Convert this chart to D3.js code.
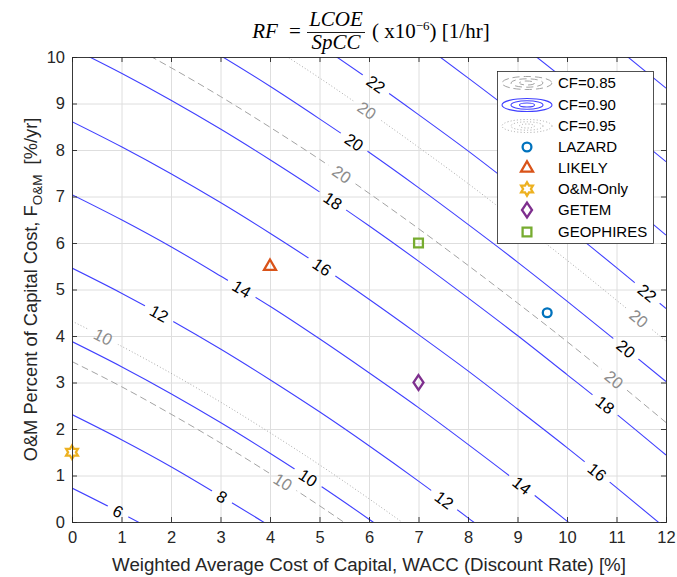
<!DOCTYPE html>
<html>
<head>
<meta charset="utf-8">
<script src="https://cdn.jsdelivr.net/npm/d3@7"></script>
<style>
  body { margin: 0; background: #fff; }
  svg { display: block; }
</style>
</head>
<body>
<svg id="chart" width="677" height="577"></svg>
<script>
// WACC grid [%] at which every contour's O&M value is tabulated
const wacc = [0, 1, 2, 3, 4, 5, 6, 7, 8, 9, 10, 11, 12];

// RF contours (x1e-6 1/hr) for capacity factor 0.90: O&M % at each WACC grid value
const cf090 = [
  { level: 6,  fom: [0.73, 0.19, -0.39, -1.01, -1.67, -2.36, -3.09, -3.85, -4.64, -5.45, -6.29, -7.14, -8.02] },
  { level: 8,  fom: [2.31, 1.77, 1.19, 0.56, -0.09, -0.79, -1.52, -2.27, -3.06, -3.87, -4.71, -5.57, -6.44] },
  { level: 10, fom: [3.88, 3.34, 2.76, 2.14, 1.48, 0.79, 0.06, -0.70, -1.48, -2.30, -3.13, -3.99, -4.87] },
  { level: 12, fom: [5.46, 4.92, 4.34, 3.72, 3.06, 2.37, 1.64, 0.88, 0.09, -0.72, -1.56, -2.41, -3.29] },
  { level: 14, fom: [7.04, 6.50, 5.92, 5.29, 4.64, 3.94, 3.21, 2.46, 1.67, 0.86, 0.02, -0.84, -1.71] },
  { level: 16, fom: [8.61, 8.07, 7.49, 6.87, 6.21, 5.52, 4.79, 4.03, 3.25, 2.43, 1.60, 0.74, -0.14] },
  { level: 18, fom: [10.19, 9.65, 9.07, 8.45, 7.79, 7.10, 6.37, 5.61, 4.82, 4.01, 3.17, 2.32, 1.44] },
  { level: 20, fom: [11.77, 11.23, 10.65, 10.03, 9.37, 8.67, 7.95, 7.19, 6.40, 5.59, 4.75, 3.89, 3.02] },
  { level: 22, fom: [13.34, 12.80, 12.22, 11.60, 10.94, 10.25, 9.52, 8.76, 7.98, 7.16, 6.33, 5.47, 4.59] },
  { level: 24, fom: [14.92, 14.38, 13.80, 13.18, 12.52, 11.83, 11.10, 10.34, 9.55, 8.74, 7.90, 7.05, 6.17] },
  { level: 26, fom: [16.50, 15.96, 15.38, 14.76, 14.10, 13.40, 12.68, 11.92, 11.13, 10.32, 9.48, 8.62, 7.75] },
  { level: 28, fom: [18.08, 17.53, 16.95, 16.33, 15.67, 14.98, 14.25, 13.49, 12.71, 11.89, 11.06, 10.20, 9.33] }
];

// capacity factor 0.85
const cf085 = [
  { level: 10, fom: [3.45, 2.91, 2.32, 1.70, 1.04, 0.35, -0.38, -1.14, -1.92, -2.73, -3.57, -4.43, -5.30] },
  { level: 20, fom: [10.89, 10.35, 9.77, 9.15, 8.49, 7.80, 7.07, 6.31, 5.52, 4.71, 3.88, 3.02, 2.14] }
];

// capacity factor 0.95
const cf095 = [
  { level: 10, fom: [4.32, 3.78, 3.20, 2.58, 1.92, 1.23, 0.50, -0.26, -1.05, -1.86, -2.69, -3.55, -4.43] },
  { level: 20, fom: [12.64, 12.10, 11.52, 10.90, 10.24, 9.55, 8.82, 8.06, 7.28, 6.46, 5.63, 4.77, 3.89] }
];

// reference estimates
const designNames = ["LAZARD", "LIKELY", "O&M-Only", "GETEM", "GEOPHIRES"];
const designWacc  = [9.6, 4, 0, 7, 7];
const designFom   = [4.5, 5.5, 1.5, 3, 6];

// axis ticks
const xTicks = [0, 1, 2, 3, 4, 5, 6, 7, 8, 9, 10, 11, 12];
const yTicks = [0, 1, 2, 3, 4, 5, 6, 7, 8, 9, 10];

// WACC values along each contour where its inline label sits
const labelAt090 = { 6: [0.93], 8: [3.03], 10: [4.77], 12: [1.76, 7.52], 14: [3.43, 9.09],
                     16: [5.05, 10.61], 18: [5.27, 10.77], 20: [5.70, 11.19], 22: [6.14, 11.62] };
const labelAt085 = { 10: [4.26], 20: [5.45, 10.95] };
const labelAt095 = { 10: [0.63], 20: [5.96, 11.45] };

// ---------------------------------------------------------------------------
const svg = d3.select("#chart");
const W = 677, H = 577;
const plot = { left: 72, right: 666, top: 57, bottom: 522 };
const sans = "'Liberation Sans', Arial, Helvetica, sans-serif";
const serif = "'Liberation Serif', 'Times New Roman', serif";
const axisColor = "#262626";

const x = d3.scaleLinear().domain([0, 12]).range([plot.left, plot.right]);
const y = d3.scaleLinear().domain([0, 10]).range([plot.bottom, plot.top]);

const defs = svg.append("defs");
defs.append("clipPath").attr("id", "plot-clip")
  .append("rect")
  .attr("x", plot.left).attr("y", plot.top)
  .attr("width", plot.right - plot.left).attr("height", plot.bottom - plot.top);

// background + grid
svg.append("rect").attr("x", plot.left).attr("y", plot.top)
  .attr("width", plot.right - plot.left).attr("height", plot.bottom - plot.top)
  .attr("fill", "#fff");

const grid = svg.append("g").attr("stroke", "#dedede").attr("stroke-width", 1);
grid.selectAll(".gx").data(xTicks).join("line")
  .attr("x1", d => x(d) + 0.5).attr("x2", d => x(d) + 0.5)
  .attr("y1", plot.top).attr("y2", plot.bottom);
grid.selectAll(".gy").data(yTicks).join("line")
  .attr("y1", d => y(d) + 0.5).attr("y2", d => y(d) + 0.5)
  .attr("x1", plot.left).attr("x2", plot.right);

// contour sets
const line = d3.line()
  .x((d, i) => x(wacc[i]))
  .y(d => y(d))
  .curve(d3.curveMonotoneX);

const sets = [
  { data: cf085, labels: labelAt085, stroke: "#a3a3a3", dash: "7,4",   width: 1,   text: "#8c8c8c", name: "cf085" },
  { data: cf090, labels: labelAt090, stroke: "#4040ff", dash: null,    width: 1.1, text: "#000000", name: "cf090" },
  { data: cf095, labels: labelAt095, stroke: "#a8a8a8", dash: "1,2.2", width: 1,   text: "#8c8c8c", name: "cf095" }
];

const contourLayer = svg.append("g").attr("clip-path", "url(#plot-clip)");
const labelLayer = svg.append("g")
  .attr("font-family", sans).attr("font-size", 16.5);

function pointAtX(node, px) {
  let lo = 0, hi = node.getTotalLength();
  for (let k = 0; k < 40; k++) {
    const mid = (lo + hi) / 2;
    if (node.getPointAtLength(mid).x < px) lo = mid; else hi = mid;
  }
  return (lo + hi) / 2;
}

sets.forEach(set => {
  set.data.forEach((c, ci) => {
    const id = `mask-${set.name}-${ci}`;
    const mask = defs.append("mask").attr("id", id).attr("maskUnits", "userSpaceOnUse")
      .attr("x", 0).attr("y", 0).attr("width", W).attr("height", H);
    mask.append("rect").attr("x", 0).attr("y", 0).attr("width", W).attr("height", H).attr("fill", "#fff");

    const g = contourLayer.append("g").attr("mask", `url(#${id})`);
    const path = g.append("path")
      .attr("d", line(c.fom))
      .attr("fill", "none")
      .attr("stroke", set.stroke)
      .attr("stroke-width", set.width)
      .attr("stroke-dasharray", set.dash);
    const node = path.node();

    (set.labels[c.level] || []).forEach(wx => {
      const l = pointAtX(node, x(wx));
      const p = node.getPointAtLength(l);
      const p1 = node.getPointAtLength(l - 3), p2 = node.getPointAtLength(l + 3);
      const ang = Math.atan2(p2.y - p1.y, p2.x - p1.x) * 180 / Math.PI;
      const t = labelLayer.append("text")
        .attr("transform", `translate(${p.x},${p.y}) rotate(${ang})`)
        .attr("text-anchor", "middle")
        .attr("dy", "0.36em")
        .attr("fill", set.text)
        .text(c.level);
      const w = t.node().getComputedTextLength() + 14;
      mask.append("rect")
        .attr("x", -w / 2).attr("y", -8).attr("width", w).attr("height", 16)
        .attr("transform", `translate(${p.x},${p.y}) rotate(${ang})`)
        .attr("fill", "#000");
    });
  });
});

// markers
const colors = ["#0072BD", "#D95319", "#EDB120", "#7E2F8E", "#77AC30"];
function hexagram(R) {
  const r = R / Math.sqrt(3);
  const pts = [];
  for (let k = 0; k < 12; k++) {
    const a = -Math.PI / 2 + k * Math.PI / 6;
    const rad = k % 2 === 0 ? R : r;
    pts.push([rad * Math.cos(a), rad * Math.sin(a)]);
  }
  return "M" + pts.map(p => p.join(",")).join("L") + "Z";
}
const shapes = [
  "M4.4,0A4.4,4.4 0 1,1 -4.4,0A4.4,4.4 0 1,1 4.4,0Z",
  "M0,-6.8L6,3.7L-6,3.7Z",
  hexagram(6.8),
  "M0,-7.4L5,0L0,7.4L-5,0Z",
  "M-4.4,-4.4L4.4,-4.4L4.4,4.4L-4.4,4.4Z"
];
const markerLayer = svg.append("g");
designNames.forEach((n, i) => {
  markerLayer.append("path")
    .attr("d", shapes[i])
    .attr("transform", `translate(${x(designWacc[i])},${y(designFom[i])})`)
    .attr("fill", "none")
    .attr("stroke", colors[i])
    .attr("stroke-width", 2.3)
    .attr("stroke-linejoin", "miter");
});

// axes, ticks inward on all sides
const axG = svg.append("g").attr("font-family", sans);
const xAxis = axG.append("g").attr("transform", `translate(0,${plot.bottom})`)
  .call(d3.axisBottom(x).tickValues(xTicks).tickSize(-5).tickPadding(9).tickFormat(d3.format("d")));
const xAxisTop = axG.append("g").attr("transform", `translate(0,${plot.top})`)
  .call(d3.axisTop(x).tickValues(xTicks).tickSize(-5).tickFormat(""));
const yAxis = axG.append("g").attr("transform", `translate(${plot.left},0)`)
  .call(d3.axisLeft(y).tickValues(yTicks).tickSize(-5).tickPadding(7).tickFormat(d3.format("d")));
const yAxisRight = axG.append("g").attr("transform", `translate(${plot.right},0)`)
  .call(d3.axisRight(y).tickValues(yTicks).tickSize(-5).tickFormat(""));
[xAxis, xAxisTop, yAxis, yAxisRight].forEach(a => {
  a.selectAll(".domain").attr("stroke", axisColor).attr("stroke-width", 0.9);
  a.selectAll(".tick line").attr("stroke", axisColor).attr("stroke-width", 0.9);
  a.selectAll(".tick text").attr("fill", axisColor).attr("font-size", 16.5).attr("font-family", sans);
});

// axis titles
svg.append("text")
  .attr("x", (plot.left + plot.right) / 2).attr("y", 571)
  .attr("text-anchor", "middle")
  .attr("font-family", sans).attr("font-size", 18.7).attr("fill", axisColor)
  .text("Weighted Average Cost of Capital, WACC (Discount Rate) [%]");

const yTitle = svg.append("text")
  .attr("transform", `translate(37,${(plot.top + plot.bottom) / 2}) rotate(-90)`)
  .attr("text-anchor", "middle")
  .attr("font-family", sans).attr("font-size", 18.3).attr("fill", axisColor);
yTitle.append("tspan").text("O&M Percent of Capital Cost, F");
yTitle.append("tspan").attr("font-size", 13.5).attr("dy", 4.5).text("O&M");
yTitle.append("tspan").attr("dy", -4.5).text("\u00a0\u00a0[%/yr]");

// title: RF = LCOE / SpCC ( x10^-6) [1/hr]
const title = svg.append("g").attr("font-family", serif).attr("fill", "#000").attr("font-size", 21);
title.append("text").attr("x", 265).attr("y", 38).attr("text-anchor", "middle")
  .attr("font-style", "italic").text("RF");
title.append("text").attr("x", 295).attr("y", 38).attr("text-anchor", "middle").text("=");
title.append("text").attr("x", 336).attr("y", 26).attr("text-anchor", "middle")
  .attr("font-style", "italic").text("LCOE");
title.append("line").attr("x1", 307).attr("x2", 365).attr("y1", 32.5).attr("y2", 32.5)
  .attr("stroke", "#000").attr("stroke-width", 0.9);
title.append("text").attr("x", 336).attr("y", 49).attr("text-anchor", "middle")
  .attr("font-style", "italic").text("SpCC");
const rest = title.append("text").attr("x", 372).attr("y", 38);
rest.append("tspan").text("(\u00a0x10");
rest.append("tspan").attr("font-size", 13).attr("dy", -8).text("\u22126");
rest.append("tspan").attr("dy", 8).text(")\u00a0[1/hr]");

// legend
const lg = svg.append("g").attr("font-family", sans).attr("font-size", 15);
lg.append("rect").attr("x", 497.5).attr("y", 71.5).attr("width", 156).attr("height", 172)
  .attr("fill", "#fff").attr("stroke", axisColor).attr("stroke-width", 0.8);
const rowY = [83, 105, 126, 147, 168, 189, 210, 232];
const iconX = 527, textX = 558;
const legendContours = [
  { label: "CF=0.85", set: sets[0] },
  { label: "CF=0.90", set: sets[1] },
  { label: "CF=0.95", set: sets[2] }
];
legendContours.forEach((e, i) => {
  [[25, 6.5], [16, 4.2], [7.5, 2]].forEach(([rx, ry]) => {
    lg.append("ellipse").attr("cx", iconX).attr("cy", rowY[i]).attr("rx", rx).attr("ry", ry)
      .attr("fill", "none").attr("stroke", e.set.stroke).attr("stroke-width", e.set.width)
      .attr("stroke-dasharray", e.set.dash);
  });
  lg.append("text").attr("x", textX).attr("y", rowY[i]).attr("dy", "0.36em").attr("fill", "#000").text(e.label);
});
designNames.forEach((n, i) => {
  const yy = rowY[i + 3];
  lg.append("path").attr("d", shapes[i])
    .attr("transform", `translate(${iconX},${yy})`)
    .attr("fill", "none").attr("stroke", colors[i]).attr("stroke-width", 2.3);
  lg.append("text").attr("x", textX).attr("y", yy).attr("dy", "0.36em").attr("fill", "#000").text(n);
});
</script>
</body>
</html>
